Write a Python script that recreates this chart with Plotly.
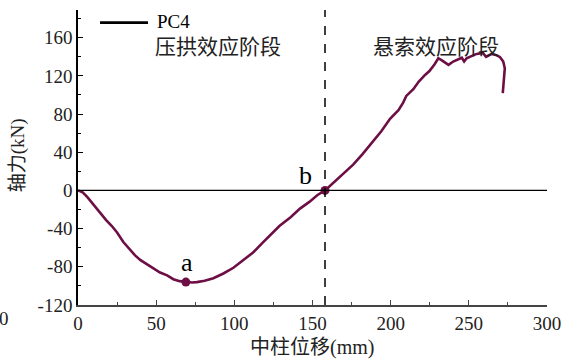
import plotly.graph_objects as go

# Data
disp = [0, 3, 6, 10, 14, 18, 21.5, 25, 29, 33, 36.5, 40, 44, 48, 52.5, 57, 61, 65, 69, 73, 76,
        81, 86.6, 93, 99.4, 106, 112, 118, 125, 129, 136, 142, 148, 153, 158, 162, 165.5, 170,
        176, 182, 188, 194, 199.6, 202, 205, 208, 210, 214.5, 218, 222, 224.8, 228, 230.5, 233,
        237, 240, 243, 245.5, 247, 248.6, 252, 255, 259, 261, 264.7, 268, 270, 272, 273, 272.5, 271.7]
force = [0, -2, -7, -15, -24, -31, -37, -44, -54, -62, -68, -73, -77, -81, -86, -89, -93, -95, -96, -96.5, -96,
         -94.5, -92, -87, -81, -73, -65, -55, -44, -37, -28, -19, -12, -5, 0, 6, 11, 17,
         27, 38, 50, 62, 75, 79, 84, 92, 99, 106, 114, 121, 125, 132, 138.5, 136,
         131.5, 135, 137.5, 139, 135, 138.5, 141, 143, 144, 140, 143, 141.5, 139.5, 135, 128, 115, 102]

point_x = [69, 158]
point_y = [-96, 0]
point_labels = ["a", "b"]
label_x = [69.7, 145.2]
label_y = [-75, 16]

x_ticks = [0, 50, 100, 150, 200, 250, 300]
y_ticks = [-120, -80, -40, 0, 40, 80, 120, 160]
y_tick_text = ["-120", "-80", "-40", "0", "40", "80", "120", "160"]

series_name = "PC4"
stage1 = "压拱效应阶段"
stage2 = "悬索效应阶段"

line_color = "#6d0f45"
serif = "Liberation Serif"
mixed = "Liberation Serif, Noto Sans CJK SC"
cjk = "Noto Sans CJK SC"

fig = go.Figure()
fig.add_trace(go.Scatter(x=disp, y=force, mode="lines",
                         line=dict(color=line_color, width=2.6), showlegend=False))
fig.add_trace(go.Scatter(x=point_x, y=point_y, mode="markers",
                         marker=dict(color=line_color, size=9), showlegend=False))

# zero line
fig.add_shape(type="line", x0=0, x1=300, y0=0, y1=0, xref="x", yref="y",
              line=dict(color="black", width=1.2))
# dashed divider
fig.add_shape(type="line", x0=158, x1=158, y0=0, y1=1, xref="x", yref="paper",
              line=dict(color="black", width=1.5, dash="dash"))
# legend sample line
fig.add_shape(type="line", x0=14.1, x1=44.8, y0=175.8, y1=175.8, xref="x", yref="y",
              line=dict(color="black", width=2.6))

ann = []
ann.append(dict(x=49.3, y=176.5, text=series_name, xanchor="left", yanchor="middle",
                showarrow=False, font=dict(family=serif, size=19, color="black")))
ann.append(dict(x=48.0, y=152.0, text=stage1, xanchor="left", yanchor="middle",
                showarrow=False, font=dict(family=cjk, size=21, color="#222")))
ann.append(dict(x=187.5, y=152.0, text=stage2, xanchor="left", yanchor="middle",
                showarrow=False, font=dict(family=cjk, size=21, color="#222")))
for lx, ly, t in zip(label_x, label_y, point_labels):
    ann.append(dict(x=lx, y=ly, text=t, xanchor="center", yanchor="middle",
                    showarrow=False, font=dict(family=serif, size=26, color="black")))
# axis titles
ann.append(dict(x=-0.128, y=36.8, xref="paper", yref="y", text="轴力(kN)", textangle=-90,
                xanchor="center", yanchor="middle", showarrow=False,
                font=dict(family=mixed, size=19, color="#222")))
ann.append(dict(x=(312 - 78) / 469, y=-0.145, xref="paper", yref="paper", text="中柱位移(mm)",
                xanchor="center", yanchor="middle", showarrow=False,
                font=dict(family=mixed, size=20, color="#222")))
# stray tick label at far left
ann.append(dict(x=(4 - 78) / 469, y=-0.045, xref="paper", yref="paper", text="0",
                xanchor="center", yanchor="middle", showarrow=False,
                font=dict(family=serif, size=19, color="#222")))

fig.update_layout(
    width=572, height=363,
    margin=dict(l=78, r=25, t=10, b=58),
    paper_bgcolor="white", plot_bgcolor="white",
    annotations=ann,
    showlegend=False,
    xaxis=dict(range=[0, 300], tickvals=x_ticks, ticks="inside", ticklen=5,
               tickcolor="#444", showline=True, linecolor="#444", linewidth=1.5,
               showgrid=False, zeroline=False,
               minor=dict(dtick=25, ticks="inside", ticklen=3, tickcolor="#444"),
               tickfont=dict(family=serif, size=19, color="#222")),
    yaxis=dict(range=[-120, 189], tickvals=y_ticks, ticktext=y_tick_text,
               ticks="inside", ticklen=5,
               tickcolor="black", showline=True, linecolor="black", linewidth=1.5,
               showgrid=False, zeroline=False,
               minor=dict(dtick=20, ticks="inside", ticklen=3, tickcolor="black"),
               tickfont=dict(family=serif, size=19, color="#222")),
)

fig.write_html("out.html", config={"displayModeBar": False},
               post_script="document.body.style.margin='0';")
